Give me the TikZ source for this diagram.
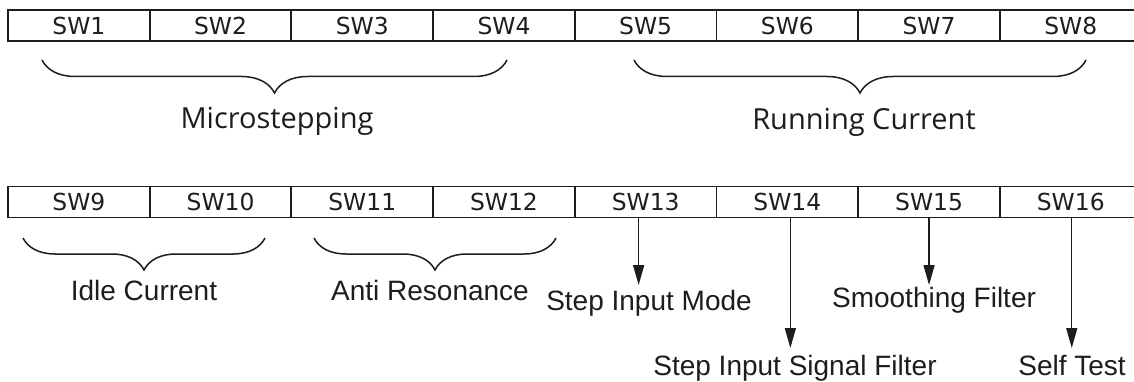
\documentclass[tikz,border=0pt]{standalone}
\usepackage{fontspec}
\setmainfont{Liberation Sans}
\newfontfamily\swfont{DejaVu Sans}
\newfontfamily\capfont{Open Sans}
\usetikzlibrary{positioning,arrows.meta,decorations.pathreplacing}
\definecolor{inkgray}{RGB}{30,28,29}
\tikzstyle{line} = [draw=inkgray, line width=1.4pt, -{Triangle[length=20pt,width=11pt]}]
\tikzstyle{curly} = [draw=inkgray, line width=1.5pt, decorate, decoration={brace, mirror, amplitude=33pt}]

\begin{document}
\begin{tikzpicture}[x=1pt, y=1pt, every node/.style={text=inkgray},
    cell/.style={rectangle, draw=inkgray, line width=1.9pt, minimum width=141.7pt, minimum height=31pt, inner sep=0pt, outer sep=0pt, font=\swfont\fontsize{23.4}{28}\selectfont},
    group/.style={font=\capfont\fontsize{29}{34}\selectfont, inner sep=0pt, anchor=base},
    func/.style={font=\fontsize{28}{33}\selectfont, inner sep=0pt, anchor=base}]
        \path[use as bounding box] (0,0) rectangle (1134,-382);
        \clip (0,0) rectangle (1134,-382);

        % upper row of switches
        \node[cell, anchor=west] (sw1) at (8,-25.5) {SW1};
        \node[cell, right=0pt of sw1] (sw2) {SW2};
        \node[cell, right=0pt of sw2] (sw3) {SW3};
        \node[cell, right=0pt of sw3] (sw4) {SW4};
        \node[cell, right=0pt of sw4] (sw5) {SW5};
        \node[cell, right=0pt of sw5] (sw6) {SW6};
        \node[cell, right=0pt of sw6] (sw7) {SW7};
        \node[cell, right=0pt of sw7] (sw8) {SW8};

        % lower row of switches
        \node[cell, anchor=west] (sw9) at (8,-202) {SW9};
        \node[cell, right=0pt of sw9] (sw10) {SW10};
        \node[cell, right=0pt of sw10] (sw11) {SW11};
        \node[cell, right=0pt of sw11] (sw12) {SW12};
        \node[cell, right=0pt of sw12] (sw13) {SW13};
        \node[cell, right=0pt of sw13] (sw14) {SW14};
        \node[cell, right=0pt of sw14] (sw15) {SW15};
        \node[cell, right=0pt of sw15] (sw16) {SW16};

        % groups
        \path[curly] (42,-60) -- (507,-60);
        \path[curly] (634,-60) -- (1086,-60);
        \path[curly, decoration={amplitude=32pt}] (23,-238) -- (265,-238);
        \path[curly, decoration={amplitude=32pt}] (314,-238) -- (556,-238);

        \node[group] (micro) at (277,-129) {Microstepping};
        \node[group] (running) at (864,-130) {Running Current};
        \node[func] (idle) at (144,-300) {Idle Current};
        \node[func] (anti) at (430,-300) {Anti Resonance};

        % single switches
        \node[func] (mode) at (649,-310) {Step Input Mode};
        \node[func] (smooth) at (934,-307) {Smoothing Filter};
        \node[func] (signal) at (795,-375) {Step Input Signal Filter};
        \node[func] (selftest) at (1072,-375) {Self Test};

        \path [line, shorten >=4.5pt] ([xshift=-7pt]sw13.south) -- ([xshift=-7pt]sw13.south |- mode.north);
        \path [line, shorten >=6.5pt] ([xshift=3pt]sw14.south) -- ([xshift=3pt]sw14.south |- signal.north);
        \path [line, shorten >=1.5pt] (sw15.south) -- (sw15.south |- smooth.north);
        \path [line, shorten >=6.5pt] ([xshift=1pt]sw16.south) -- ([xshift=1pt]sw16.south |- selftest.north);
    \end{tikzpicture}
\end{document}
